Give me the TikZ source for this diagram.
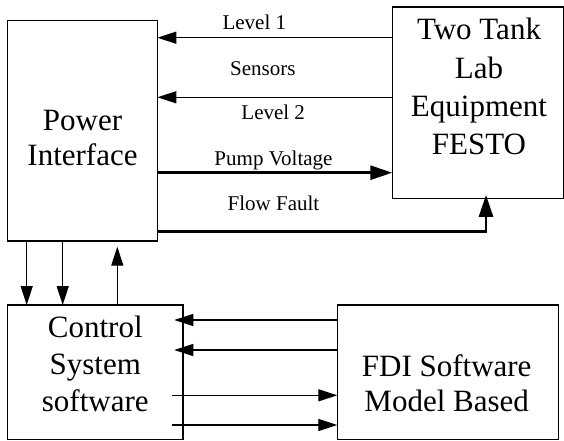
\documentclass[tikz,border=0pt]{standalone}
\usepackage{fontspec}
\setmainfont{Liberation Serif}
\usetikzlibrary{arrows.meta}
\begin{document}
\begin{tikzpicture}[x=1pt,y=-1pt,
  box/.style={draw, line width=1.6pt, inner sep=0pt, outer sep=0pt},
  big/.style={font=\fontsize{31}{#1}\selectfont, align=center, inner sep=0pt},
  lbl/.style={font=\fontsize{21}{25}\selectfont, inner sep=0pt, anchor=base},
  arr/.style={line width=1.3pt, -{Triangle[length=19pt,width=12pt]}},
  thk/.style={line width=2.8pt, -{Triangle[length=22pt,width=14pt]}}
]
\useasboundingbox (0,0) rectangle (564,441);

% boxes
\node[box, minimum width=150pt, minimum height=220.2pt] (pi) at (82.3,130.6) {};
\node[box, minimum width=171pt, minimum height=191pt] (tt) at (477.8,102.8) {};
\node[box, minimum width=175.4pt, minimum height=134.3pt] (cs) at (95,372.15) {};
\node[box, minimum width=221pt, minimum height=134.3pt] (fdi) at (447.8,372.15) {};

% box texts
\node[big=35] (pitxt) at (82.5,138.3) {Power\\Interface};
\node[big=38.3] (tttxt) at (479,86.7) {Two Tank\\Lab\\Equipment\\FESTO};
\node[big=37.2] (cstxt) at (95.3,363.9) {Control\\System\\software};
\node[big=35.7] (fditxt) at (446.7,383.3) {FDI Software\\Model Based};

% connector labels
\node[lbl] (l1) at (254.3,30) {Level 1};
\node[lbl] (sen) at (262.8,76) {Sensors};
\node[lbl] (l2) at (273.2,119.3) {Level 2};
\node[lbl] (pv) at (273.5,165) {Pump Voltage};
\node[lbl] (ff) at (273.5,210) {Flow Fault};

% reference coordinates
\coordinate (ya) at (0,37.7);
\coordinate (yb) at (0,97.3);
\coordinate (yc) at (0,172.7);
\coordinate (yd) at (0,231.7);
\coordinate (xf) at (486,0);
\coordinate (xa) at (26.7,0);
\coordinate (xb) at (62.7,0);
\coordinate (xc) at (117.3,0);
\coordinate (ye) at (0,320);
\coordinate (yf) at (0,350);
\coordinate (yg) at (0,395.3);
\coordinate (yh) at (0,425);

% top connectors
\draw[arr] (tt.west |- ya) -- (pi.east |- ya);
\draw[arr] (tt.west |- yb) -- (pi.east |- yb);
\draw[thk] (pi.east |- yc) -- (tt.west |- yc);
\draw[thk, shorten >=-3.4pt] (pi.east |- yd) -| (xf |- tt.south);
\path (tt.south -| xf) ++(0,3.4) coordinate (fftip);

% vertical connectors
\draw[arr] (pi.south -| xa) -- (cs.north -| xa);
\draw[arr] (pi.south -| xb) -- (cs.north -| xb);
\draw[arr, shorten >=6pt] (cs.north -| xc) -- (pi.south -| xc);

% bottom connectors
\draw[arr, shorten >=-8.4pt] (fdi.west |- ye) -- (cs.east |- ye);
\draw[arr, shorten >=-8.4pt] (fdi.west |- yf) -- (cs.east |- yf);
\draw[arr, shorten <=-10.4pt] (cs.east |- yg) -- (fdi.west |- yg);
\draw[arr, shorten <=-10.4pt] (cs.east |- yh) -- (fdi.west |- yh);
\end{tikzpicture}
\end{document}
